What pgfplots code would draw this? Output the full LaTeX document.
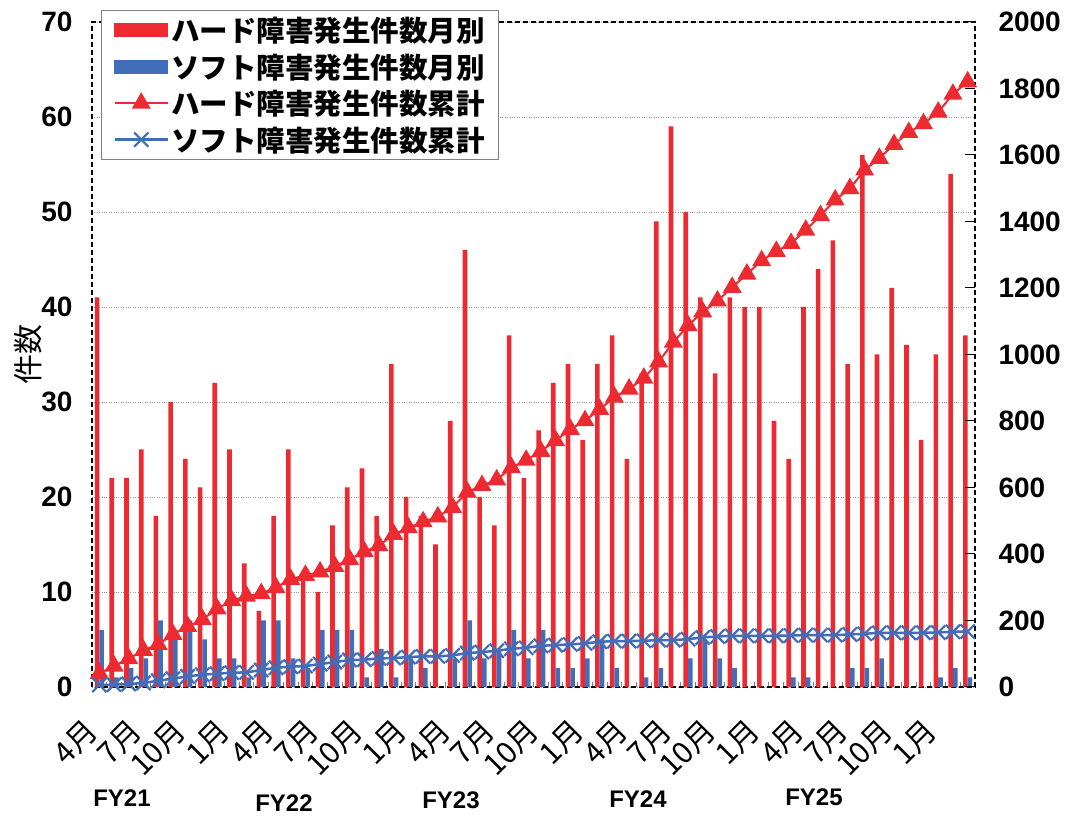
\documentclass[border=0pt]{standalone}
\usepackage{pgfplots}
\usepackage{pgfplotstable}
\pgfplotsset{compat=1.18}
\usepackage{fontspec}
\setmainfont{Liberation Sans}
\newfontfamily\cjk{Noto Sans CJK JP}
\definecolor{hardred}{RGB}{237,41,49}
\definecolor{softblue}{RGB}{66,109,184}

% month, hard/soft per month, hard/soft cumulative
\pgfplotstableread{
m hard soft hardcum softcum
1 41 6 41 6
2 22 1 63 7
3 22 2 85 9
4 25 3 110 12
5 18 7 128 19
6 30 6 158 25
7 24 7 182 32
8 21 5 203 37
9 32 3 235 40
10 25 3 260 43
11 13 1 273 44
12 8 7 281 51
13 18 7 299 58
14 25 3 324 61
15 12 2 336 63
16 10 6 346 69
17 17 6 363 75
18 21 6 384 81
19 23 1 407 82
20 18 4 425 86
21 34 1 459 87
22 20 3 479 90
23 18 2 497 92
24 15 0 512 92
25 28 3 540 95
26 46 7 586 102
27 20 3 606 105
28 17 4 623 109
29 37 6 660 115
30 22 3 682 118
31 27 6 709 124
32 32 2 741 126
33 34 2 775 128
34 26 3 801 131
35 34 5 835 136
36 37 2 872 138
37 24 0 896 138
38 33 1 929 139
39 49 2 978 141
40 59 0 1037 141
41 50 3 1087 144
42 41 5 1128 149
43 33 3 1161 152
44 41 2 1202 154
45 40 0 1242 154
46 40 0 1282 154
47 28 0 1310 154
48 24 1 1334 155
49 40 1 1374 156
50 44 0 1418 156
51 47 0 1465 156
52 34 2 1499 158
53 56 2 1555 160
54 35 3 1590 163
55 42 0 1632 163
56 36 0 1668 163
57 26 0 1694 163
58 35 1 1729 164
59 54 2 1783 166
60 37 1 1820 167
}\faults

\tikzset{
  border/.style={black, dash pattern=on 5pt off 3pt, line width=1.6pt},
  numfont/.style={font=\bfseries\fontsize{28}{30}\selectfont},
  mlab/.style={rotate=45, anchor=east, inner sep=0pt, font=\cjk\fontsize{30}{32}\selectfont},
}
\pgfplotsset{
  linelegend/.style={legend image code/.code={%
    \draw[##1] (0pt,0pt) -- (53pt,0pt);
    \draw[##1] plot coordinates {(26.5pt,0pt)};}},
  barlegend/.style={legend image code/.code={%
    \fill[#1] (0pt,-6.5pt) rectangle (53pt,6.5pt);}},
}

\begin{document}
\begin{tikzpicture}
\useasboundingbox (0,0) rectangle (1077pt,816pt);
\begin{axis}[
  at={(92pt,129pt)}, anchor=south west,
  width=883pt, height=665pt, scale only axis,
  xmin=0.5, xmax=60.5, ymin=0, ymax=70,
  ytick={0,10,...,70},
  xtick={1,4,...,58},
  xticklabels={},
  minor xtick={0.5,1.5,...,60.5},
  xtick pos=left, ytick pos=left,
  tick align=inside,
  major x tick style={draw=none},
  minor x tick style={gray, line width=1pt},
  minor tick length=5pt,
  ytick style={draw=none},
  ymajorgrids,
  major grid style={gray!80, dotted, line width=0.9pt},
  axis line style={border},
  /pgf/number format/assume math mode=true,
  yticklabel style={numfont, xshift=-16pt},
]
\addplot[ybar, bar width=4.6pt, bar shift=-2.3pt, fill=hardred, draw=none] table[x=m, y=hard] {\faults};
\addplot[ybar, bar width=4.6pt, bar shift=2.3pt, fill=softblue, draw=none] table[x=m, y=soft] {\faults};
\end{axis}

\begin{axis}[
  at={(92pt,129pt)}, anchor=south west,
  width=883pt, height=665pt, scale only axis,
  xmin=0.5, xmax=60.5, ymin=0, ymax=2000,
  axis x line=none, axis y line*=right,
  ytick={0,200,...,2000},
  tick align=inside,
  major tick length=10pt,
  ytick style={black, line width=1pt},
  axis line style={border},
  scaled y ticks=false,
  /pgf/number format/1000 sep={},
  /pgf/number format/assume math mode=true,
  yticklabel style={numfont, xshift=20pt},
  clip=false,
  legend style={at={(rel axis cs:0,1)}, anchor=north west, xshift=9pt, yshift=12pt,
    draw=gray, line width=1pt, fill=white,
    font=\cjk\bfseries\fontsize{28.5}{30}\selectfont,
    row sep=6.5pt, inner xsep=12pt, inner ysep=5pt},
  legend cell align=left,
]
\addlegendimage{barlegend=hardred}
\addlegendentry{ハード障害発生件数月別}
\addlegendimage{barlegend=softblue}
\addlegendentry{ソフト障害発生件数月別}
\addplot[hardred, line width=2pt, mark=triangle*, mark size=9pt, mark options={solid, fill=hardred}, linelegend]
  table[x=m, y=hardcum] {\faults};
\addlegendentry{ハード障害発生件数累計}
\addplot[softblue, line width=2.5pt, mark=x, mark size=10pt, mark options={solid, line width=2.2pt}, linelegend]
  table[x=m, y=softcum] {\faults};
\addlegendentry{ソフト障害発生件数累計}
\end{axis}

% month labels under every third category (one category = 14.7167pt)
\foreach \i/\t in {0/4,1/7,2/10,3/1,4/4,5/7,6/10,7/1,8/4,9/7,10/10,11/1,12/4,13/7,14/10,15/1,16/4,17/7,18/10,19/1}
  \node[mlab] at ({92.26pt+\i*44.15pt},90.4pt) {\t 月};

\node[rotate=90, font=\cjk\fontsize{30}{32}\selectfont] at (28pt,461pt) {件数};
\node[font=\bfseries\fontsize{24}{26}\selectfont] at (122pt,18pt) {FY21};
\node[font=\bfseries\fontsize{24}{26}\selectfont] at (284pt,13pt) {FY22};
\node[font=\bfseries\fontsize{24}{26}\selectfont] at (451pt,16pt) {FY23};
\node[font=\bfseries\fontsize{24}{26}\selectfont] at (638pt,17pt) {FY24};
\node[font=\bfseries\fontsize{24}{26}\selectfont] at (814pt,19pt) {FY25};
\end{tikzpicture}
\end{document}
